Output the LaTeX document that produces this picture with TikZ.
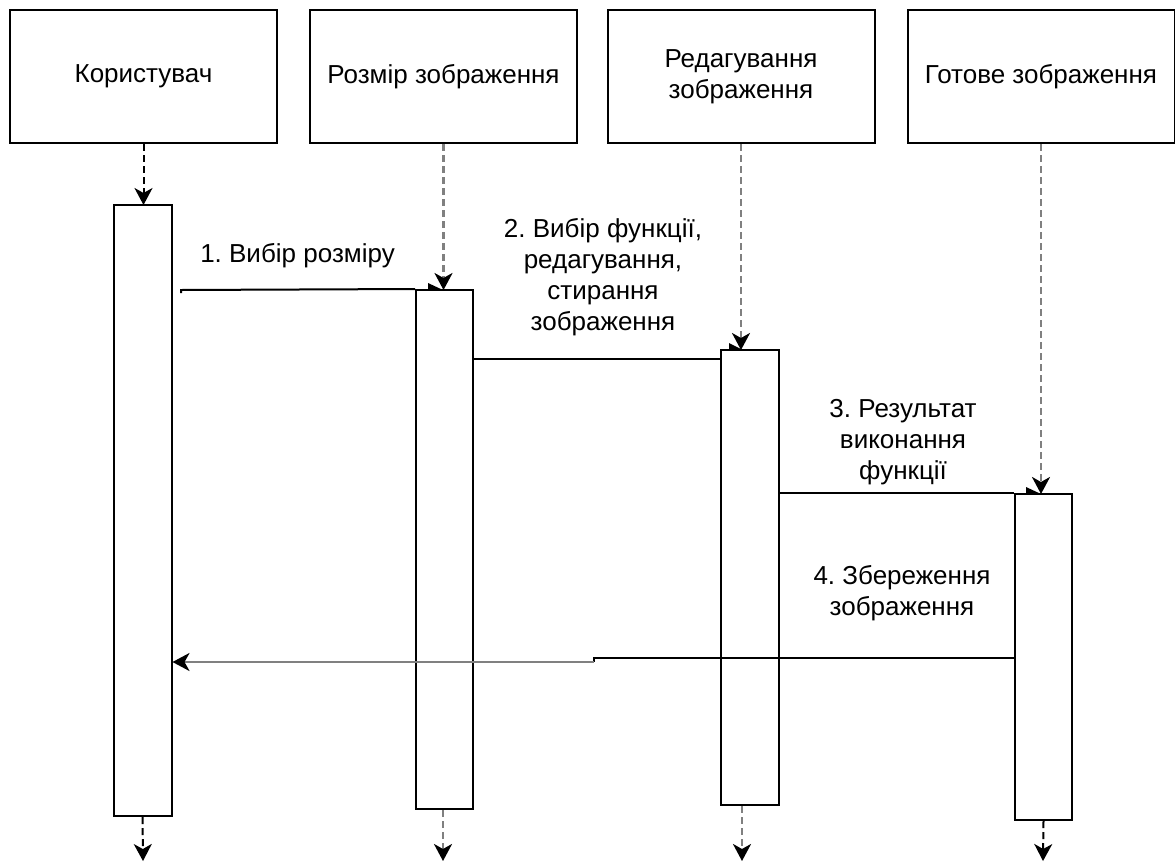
\documentclass[tikz,border=0pt]{standalone}
\usepackage{fontspec}
\setmainfont{Liberation Sans}
\usetikzlibrary{arrows.meta}
\definecolor{lgray}{RGB}{128,128,128}
\frenchspacing
\begin{document}
\begin{tikzpicture}[x=1pt,y=-1pt,
  hdr/.style={draw, line width=2pt, minimum width=267pt, minimum height=133pt, align=center, font=\fontsize{26}{31}\selectfont, inner sep=0pt},
  act/.style={draw, line width=2pt, fill=white, minimum width=58pt, inner sep=0pt},
  lbl/.style={align=center, font=\fontsize{26}{31}\selectfont},
  tip/.style={-{Stealth[length=17pt,width=18pt,inset=5pt,color=black]}},
  life/.style={line width=2pt, dash pattern=on 7pt off 4pt, tip},
  lifeg/.style={life, draw=lgray, line width=2.6pt},
  msg/.style={line width=2pt},
  wedge/.style={fill=black},
]
\useasboundingbox (0,0) rectangle (1175,865);
% headers
\node[hdr] (h1) at (143.5,76.5) {Користувач};
\node[hdr] (h2) at (443.5,76.5) {Розмір зображення};
\node[hdr] (h3) at (741,76.5) {Редагування\\зображення};
\node[hdr] (h4) at (1041,76.5) {Готове зображення};
% top lifelines (drawn before activations)
\coordinate (t1) at (143.5,205);
\coordinate (t2) at (443.5,290);
\coordinate (t3) at (741,350);
\coordinate (t4) at (1041,494);
\draw[life] (h1.south) -- (t1);
\draw[lifeg] (h2.south) -- (t2);
\draw[lifeg] (h3.south) -- (t3);
\draw[lifeg] (h4.south) -- (t4);
% activations
\node[act, minimum height=611pt] (a1) at (142.5,510.5) {};
\node[act, minimum height=519pt, minimum width=57pt] (a2) at (444.5,549.5) {};
\node[act, minimum height=455pt] (a3) at (750,577.5) {};
\node[act, minimum height=326pt, minimum width=57pt] (a4) at (1043.5,657) {};
% bottom lifelines
\coordinate (b1) at (143,861);
\coordinate (b2) at (443,861);
\coordinate (b3) at (742,861);
\coordinate (b4) at (1043,861);
\draw[life] (a1.south) -- (b1);
\draw[lifeg] (a2.south -| b2) -- (b2);
\draw[lifeg] (a3.south -| b3) -- (b3);
\draw[life] (a4.south) -- (b4);
% messages
\coordinate (m1s) at (181,293);
\draw[msg] (m1s) -- (181,290) -- (a2.north west);
\fill[wedge] (428,283) -- (443,290) -- (428,290) -- cycle;
\draw[msg] (a2.east |- 0,359) -- (a3.west |- 0,359);
\fill[wedge] (729,343) -- (743,350) -- (729,350) -- cycle;
\draw[msg] (a3.east |- a4.north) -- (a4.north west);
\fill[wedge] (1026,487) -- (1041,494) -- (1026,494) -- cycle;
\coordinate (m4k) at (594,658);
\draw[msg] (a4.west |- 0,658) -- (m4k) -- ++(0,4);
\draw[line width=2.6pt, draw=lgray, tip] (594,662) -- (a1.east |- 0,662);
% labels
\node[lbl] (l1) at (297.5,256) {1. Вибір розміру};
\node[lbl] (l2) at (603,277) {2. Вибір функції,\\редагування,\\стирання\\зображення};
\node[lbl] (l3) at (903,442) {3. Результат\\виконання\\функції};
\node[lbl] (l4) at (902,593) {4. Збереження\\зображення};
\end{tikzpicture}
\end{document}
